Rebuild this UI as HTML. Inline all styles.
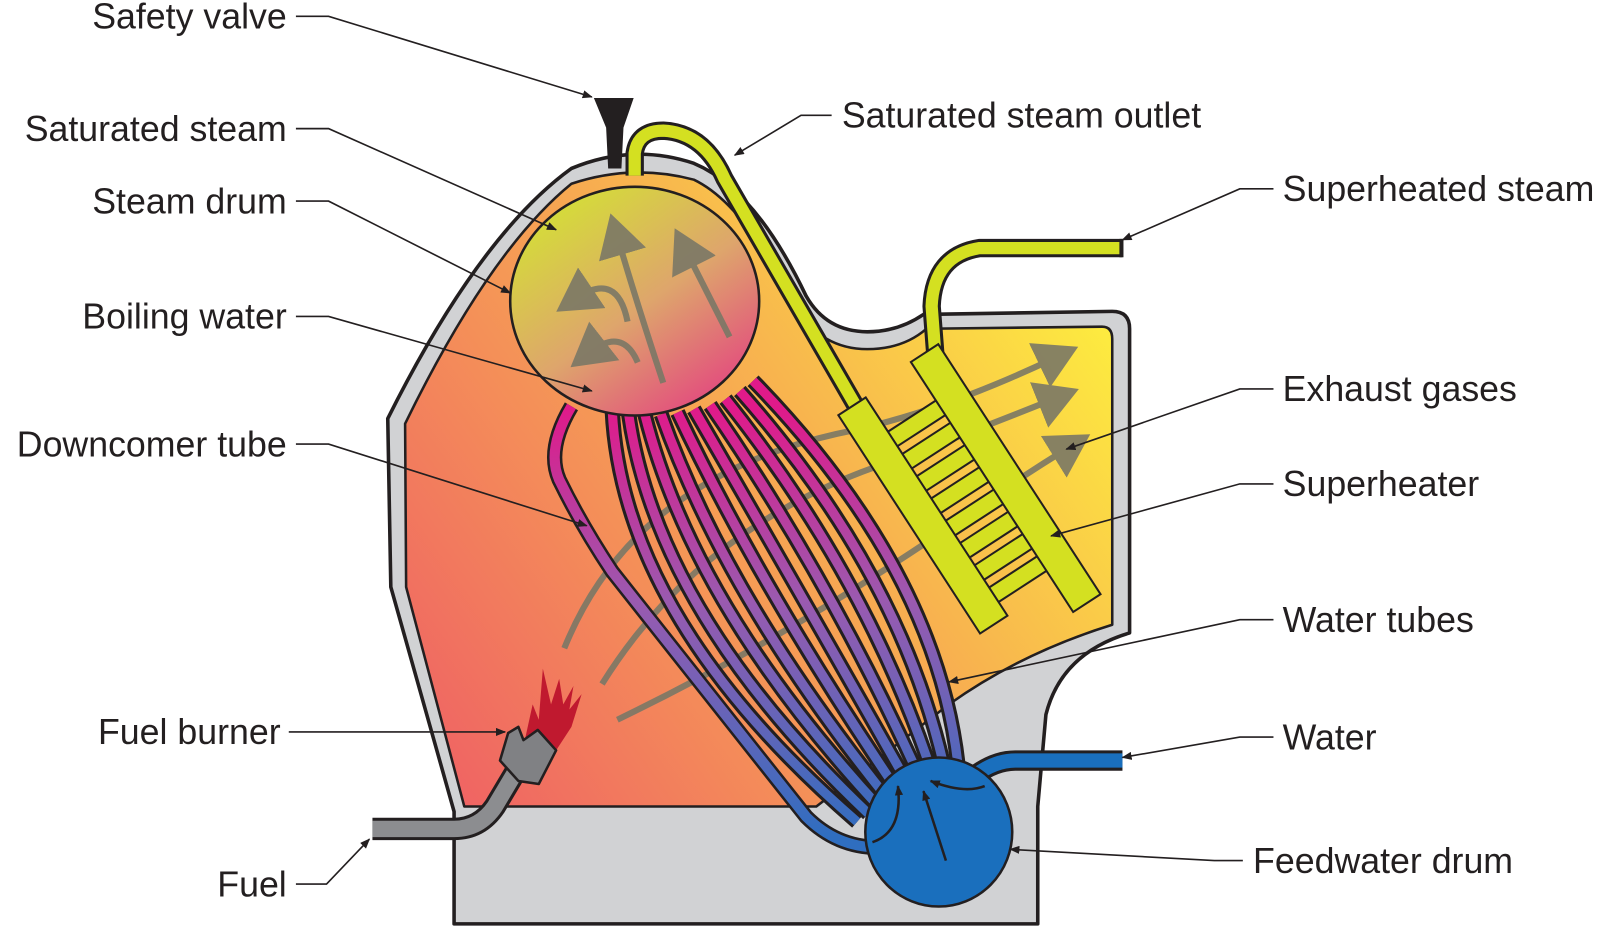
<!DOCTYPE html>
<html><head><meta charset="utf-8"><style>
html,body{margin:0;padding:0;background:#fff;}
svg{display:block;}
text{font-family:"Liberation Sans",sans-serif;font-size:35px;fill:#231f20;}
</style></head><body>
<svg width="1600" height="930" viewBox="0 0 1568 911" preserveAspectRatio="none" xmlns="http://www.w3.org/2000/svg">
<defs>
<linearGradient id="furn" x1="430" y1="790" x2="1090" y2="320" gradientUnits="userSpaceOnUse">
<stop offset="0" stop-color="#ef6164"/><stop offset="0.5" stop-color="#f6a054"/><stop offset="1" stop-color="#fdec3f"/>
</linearGradient>
<linearGradient id="drum" x1="560" y1="200" x2="700" y2="400" gradientUnits="userSpaceOnUse">
<stop offset="0" stop-color="#d5d93c"/><stop offset="0.5" stop-color="#dea56c"/><stop offset="1" stop-color="#e3467f"/>
</linearGradient>
<linearGradient id="tube" x1="0" y1="400" x2="0" y2="820" gradientUnits="userSpaceOnUse">
<stop offset="0" stop-color="#e01a8a"/><stop offset="0.45" stop-color="#9a5ab0"/><stop offset="1" stop-color="#2f6ec0"/>
</linearGradient>
<marker id="ar" markerWidth="10" markerHeight="8" refX="9" refY="4" orient="auto" markerUnits="userSpaceOnUse"><path d="M0,0 L10,4 L0,8 z" fill="#231f20"/></marker>
<marker id="ga" markerWidth="8" markerHeight="8" refX="3" refY="4" orient="auto"><path d="M0,0 L7,4 L0,8 z" fill="#7b7866"/></marker>
</defs>

<path d="M445 905 L445 795 L383 575 L380 410 Q470 230 560 165 Q620 140 680 160 Q740 185 790 290 Q810 325 850 325 Q880 325 905 308 L1090 305 Q1107 305 1107 322 L1107 620 Q1040 640 1025 700 L1017 790 L1017 905 Z" fill="#d1d2d4" stroke="#231f20" stroke-width="3.5" stroke-linejoin="round"/>
<path d="M455 790 L398 575 L397 415 Q480 245 560 180 Q620 160 680 176 Q730 200 778 300 Q805 342 850 342 Q885 342 908 322 L1080 320 Q1090 320 1090 332 L1090 612 Q1000 640 930 690 L800 790 Z" fill="url(#furn)" stroke="#231f20" stroke-width="2.5" stroke-linejoin="round"/>

<g fill="none" stroke="#7b7866" stroke-width="6" opacity="0.9">
<path d="M553 635 Q620 470 820 425 Q920 405 1035 350" marker-end="url(#ga)"/>
<path d="M590 670 Q690 510 880 450 Q960 420 1035 390" marker-end="url(#ga)"/>
<path d="M605 705 Q760 630 910 530 Q980 480 1048 438" marker-end="url(#ga)"/>
</g>

<g fill="none" stroke-linecap="butt">
<g stroke="#231f20" stroke-width="15">
<path d="M600 402 Q610 606 840 805"/><path d="M616 405 Q644 601 851 797"/><path d="M632 406 Q679 593 862 791"/><path d="M648 406 Q713 588 873 786"/><path d="M664 404 Q748 581 884 781"/><path d="M680 401 Q782 577 895 777"/><path d="M696 397 Q817 573 906 772"/><path d="M711 391 Q852 568 917 768"/><path d="M725 383 Q887 566 928 764"/><path d="M738 373 Q923 563 940 761"/>
<path d="M560 398 Q535 440 548 470 Q570 515 600 560 L790 800 Q820 830 860 830"/>
</g>
<g stroke="url(#tube)" stroke-width="9">
<path d="M600 402 Q610 606 840 805"/><path d="M616 405 Q644 601 851 797"/><path d="M632 406 Q679 593 862 791"/><path d="M648 406 Q713 588 873 786"/><path d="M664 404 Q748 581 884 781"/><path d="M680 401 Q782 577 895 777"/><path d="M696 397 Q817 573 906 772"/><path d="M711 391 Q852 568 917 768"/><path d="M725 383 Q887 566 928 764"/><path d="M738 373 Q923 563 940 761"/>
<path d="M560 398 Q535 440 548 470 Q570 515 600 560 L790 800 Q820 830 860 830" stroke-width="10"/>
</g>
</g>

<ellipse cx="622" cy="295" rx="122" ry="112" fill="url(#drum)" stroke="#231f20" stroke-width="2.5"/>
<g fill="none" stroke="#7b7866" stroke-width="6" opacity="0.9">
<path d="M650 375 Q625 300 605 232" marker-end="url(#ga)"/>
<path d="M715 330 L672 245" marker-end="url(#ga)"/>
<path d="M615 315 Q605 265 565 292" marker-end="url(#ga)"/>
<path d="M625 355 Q610 320 578 345" marker-end="url(#ga)"/>
</g>

<path d="M582 96 L621 96 L611 125 L609 165 L596 165 L594 125 Z" fill="#231f20"/>

<path d="M622 172 L622 150 Q625 128 650 128 Q690 130 710 175 L840 400" fill="none" stroke="#231f20" stroke-width="18"/>
<path d="M622 172 L622 150 Q625 128 650 128 Q690 130 710 175 L840 400" fill="none" stroke="#d4e021" stroke-width="12"/>

<path d="M917 352 L913 300 Q915 250 960 243 L1100 243" fill="none" stroke="#231f20" stroke-width="18"/>
<path d="M917 352 L913 300 Q915 250 960 243 L1100 243" fill="none" stroke="#d4e021" stroke-width="12"/>
<rect x="1097" y="234" width="4" height="18" fill="#231f20"/>

<g transform="translate(835 398) rotate(57)" fill="#d4e021" stroke="#231f20" stroke-width="2">
<rect x="40" y="-75" width="17" height="62"/><rect x="66" y="-75" width="17" height="62"/><rect x="92" y="-75" width="17" height="62"/><rect x="118" y="-75" width="17" height="62"/><rect x="144" y="-75" width="17" height="62"/><rect x="170" y="-75" width="17" height="62"/><rect x="196" y="-75" width="17" height="62"/><rect x="222" y="-75" width="17" height="62"/>
<rect x="0" y="-16" width="255" height="32"/>
<rect x="-5" y="-104" width="292" height="32"/>
</g>

<path d="M955 760 Q975 745 995 745 L1100 745" fill="none" stroke="#231f20" stroke-width="20"/>
<path d="M955 760 Q975 745 995 745 L1100 745" fill="none" stroke="#1a6fbd" stroke-width="14"/>
<ellipse cx="920" cy="815" rx="72" ry="73" fill="#1a6fbd" stroke="#231f20" stroke-width="2.5"/>
<g fill="none" stroke="#231f20" stroke-width="2.5">
<path d="M927 843 L905 775" marker-end="url(#ar)"/>
<path d="M855 825 Q885 815 880 770" marker-end="url(#ar)"/>
<path d="M965 770 Q945 778 912 765" marker-end="url(#ar)"/>
</g>

<path d="M365 812 L445 812 Q470 812 485 790 L510 748" fill="none" stroke="#231f20" stroke-width="22"/>
<path d="M365 812 L445 812 Q470 812 485 790 L510 748" fill="none" stroke="#8c8d90" stroke-width="16"/>
<path d="M515 722 L522 690 L528 705 L532 655 L540 690 L548 665 L552 690 L562 672 L558 695 L570 680 L560 712 L545 735 Z" fill="#c0192f"/>
<path d="M498 718 L508 712 L513 725 L527 715 L545 735 L528 768 L508 765 L490 745 Z" fill="#808184" stroke="#231f20" stroke-width="2.5" stroke-linejoin="round"/>

<g fill="none" stroke="#231f20" stroke-width="1.6" marker-end="url(#ar)">
<path d="M290 16 L322 16 L580 95"/>
<path d="M290 126 L322 126 L545 225"/>
<path d="M290 197 L322 197 L500 287"/>
<path d="M290 310 L322 310 L580 383"/>
<path d="M290 435 L322 435 L575 515"/>
<path d="M283 717 L420 717 L495 717"/>
<path d="M290 866 L320 866 L362 822"/>
<path d="M815 113 L785 113 L720 152"/>
<path d="M1248 185 L1215 185 L1100 235"/>
<path d="M1248 381 L1215 381 L1045 440"/>
<path d="M1248 474 L1215 474 L1030 525"/>
<path d="M1248 607 L1215 607 L930 668"/>
<path d="M1248 722 L1215 722 L1100 742"/>
<path d="M1218 843 L1190 843 L990 832"/>
</g>

<g text-anchor="end">
<text x="281" y="28">Safety valve</text>
<text x="281" y="138">Saturated steam</text>
<text x="281" y="209">Steam drum</text>
<text x="281" y="322">Boiling water</text>
<text x="281" y="447">Downcomer tube</text>
<text x="275" y="729">Fuel burner</text>
<text x="281" y="878">Fuel</text>
</g>
<text x="825" y="125">Saturated steam outlet</text>
<text x="1257" y="197">Superheated steam</text>
<text x="1257" y="393">Exhaust gases</text>
<text x="1257" y="486">Superheater</text>
<text x="1257" y="619">Water tubes</text>
<text x="1257" y="734">Water</text>
<text x="1228" y="855">Feedwater drum</text>
</svg>
</body></html>
